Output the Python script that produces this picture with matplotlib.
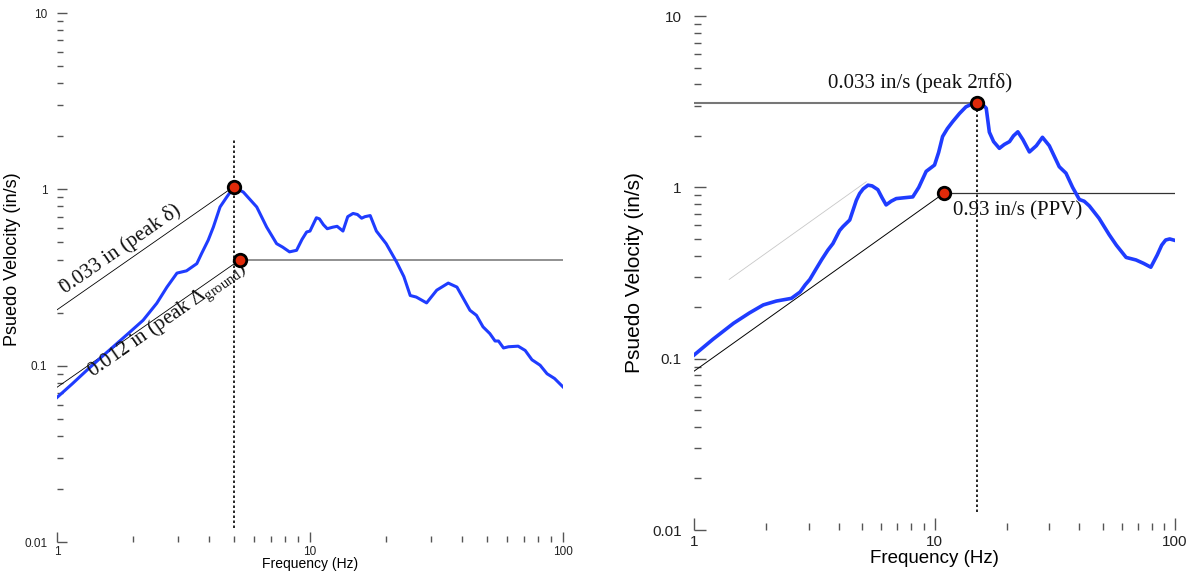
import numpy as np
import matplotlib
matplotlib.use('Agg')
import matplotlib.pyplot as plt
from matplotlib.ticker import FixedLocator, FixedFormatter, NullFormatter

plt.rcParams['font.family'] = ['Liberation Sans', 'DejaVu Sans']
plt.rcParams['mathtext.fontset'] = 'custom'
plt.rcParams['mathtext.rm'] = 'Liberation Serif'
plt.rcParams['mathtext.it'] = 'Liberation Serif:italic'

# pseudo velocity spectrum, left plot (Hz, in/s)
freq_a = [1.0, 1.15, 1.31, 1.5, 1.73, 1.95, 2.19, 2.48, 2.72, 2.98, 3.25, 3.57,
          3.73, 3.96, 4.15, 4.41, 4.69, 5.0, 5.45, 6.16, 6.74, 7.38, 7.8, 8.3,
          8.85, 9.3, 9.7, 10.0, 10.6, 10.9, 11.3, 11.7, 12.3, 12.8, 13.5, 14.1,
          14.8, 15.4, 16.0, 16.5, 17.3, 18.3, 20.0, 22.0, 23.5, 24.9, 26.3, 28.9,
          31.7, 35.2, 38.1, 42.9, 45.5, 48.3, 51.4, 53.9, 55.6, 58.2, 60.9, 66.5,
          70.9, 75.4, 81.2, 86.5, 92.6, 100.0]
psv_a = [0.066, 0.079, 0.094, 0.112, 0.134, 0.156, 0.181, 0.226, 0.279, 0.335,
         0.345, 0.379, 0.433, 0.515, 0.611, 0.794, 0.905, 1.03, 0.965, 0.794,
         0.611, 0.492, 0.47, 0.442, 0.451, 0.52, 0.573, 0.58, 0.69, 0.68, 0.63,
         0.598, 0.61, 0.617, 0.58, 0.70, 0.73, 0.72, 0.686, 0.70, 0.71, 0.58,
         0.492, 0.387, 0.32, 0.25, 0.245, 0.227, 0.268, 0.294, 0.279, 0.206,
         0.193, 0.166, 0.152, 0.138, 0.138, 0.126, 0.128, 0.129, 0.122, 0.108,
         0.1006, 0.090, 0.0846, 0.0758]

# pseudo velocity spectrum, right plot (Hz, in/s)
freq_b = [1.0, 1.2, 1.46, 1.7, 1.94, 2.2, 2.54, 2.76, 2.9, 3.03, 3.2, 3.4, 3.6,
          3.78, 4.03, 4.16, 4.44, 4.73, 4.88, 5.05, 5.29, 5.5, 5.81, 6.05, 6.29,
          6.6, 6.93, 7.5, 8.12, 8.6, 9.23, 10.0, 10.4, 10.8, 11.3, 11.9, 12.7,
          13.5, 14.2, 15.0, 15.7, 16.4, 16.9, 17.6, 18.6, 19.5, 20.5, 21.3, 22.2,
          23.3, 24.8, 26.5, 28.1, 30.0, 33.0, 35.2, 37.5, 40.0, 41.9, 44.0, 48.3,
          53.2, 57.0, 62.6, 68.8, 74.0, 79.3, 84.3, 88.0, 91.4, 95.0, 100.0]
psv_b = [0.105, 0.13, 0.161, 0.185, 0.206, 0.217, 0.225, 0.245, 0.27, 0.29,
         0.33, 0.38, 0.43, 0.47, 0.56, 0.59, 0.645, 0.84, 0.92, 0.98, 1.03, 1.02,
         0.97, 0.87, 0.79, 0.83, 0.86, 0.87, 0.88, 1.0, 1.24, 1.35, 1.6, 1.98,
         2.2, 2.42, 2.7, 2.95, 3.05, 3.11, 3.08, 2.9, 2.1, 1.85, 1.69, 1.78, 1.85,
         2.0, 2.11, 1.9, 1.61, 1.75, 1.96, 1.75, 1.32, 1.21, 1.0, 0.85, 0.83,
         0.78, 0.66, 0.53, 0.46, 0.39, 0.377, 0.36, 0.342, 0.403, 0.46, 0.493,
         0.50, 0.49]

# peak displacements (in) and where the constant-displacement lines end (Hz)
disp_peak = 0.033
disp_ground = 0.012
f_peak_a = 5.0
f_ground_a = 5.3
f_peak_b = 15.0
f_hump_b = 5.2
f_ppv_b = 11.0
ppv_b = 0.93

freq_ticks = [1, 10, 100]
freq_labels = ['1', '10', '100']
vel_ticks = [0.01, 0.1, 1, 10]
vel_labels = ['0.01', '0.1', '1', '10']

BLUE = '#1f3cff'
RED = '#e02a0a'
SERIF = ['Liberation Serif', 'DejaVu Serif']


def disp_line(f, delta):
    return 2 * np.pi * np.asarray(f) * delta


def setup(ax, tick_fs, label_fs, major, minor, ypad, xpad):
    ax.set_xscale('log')
    ax.set_yscale('log')
    ax.set_xlim(1, 100)
    ax.set_ylim(0.01, 10)
    for sp in ax.spines.values():
        sp.set_visible(False)
    ax.xaxis.set_major_locator(FixedLocator(freq_ticks))
    ax.xaxis.set_major_formatter(FixedFormatter(freq_labels))
    ax.yaxis.set_major_locator(FixedLocator(vel_ticks))
    ax.yaxis.set_major_formatter(FixedFormatter(vel_labels))
    ax.xaxis.set_minor_formatter(NullFormatter())
    ax.yaxis.set_minor_formatter(NullFormatter())
    ax.tick_params(which='both', direction='in', color='#555555', width=1,
                   labelcolor='#222222', labelsize=tick_fs)
    ax.tick_params(which='major', length=major)
    ax.tick_params(which='minor', length=minor)
    ax.tick_params(axis='y', pad=ypad)
    ax.tick_params(axis='x', pad=xpad)
    ax.set_xlabel('Frequency (Hz)', fontsize=label_fs[0])
    ax.set_ylabel('Psuedo Velocity (in/s)', fontsize=label_fs[1])


def slope_angle(fig, ax):
    # on-screen angle of a slope-1 line in log-log space
    pos = ax.get_position()
    w = pos.width * fig.get_figwidth() * fig.dpi
    h = pos.height * fig.get_figheight() * fig.dpi
    xd = np.log10(ax.get_xlim()[1] / ax.get_xlim()[0])
    yd = np.log10(ax.get_ylim()[1] / ax.get_ylim()[0])
    return np.degrees(np.arctan((h / yd) / (w / xd)))


def line_label(ax, text, f, delta, ang, dist):
    a = np.radians(ang)
    ax.annotate(text, xy=(f, disp_line(f, delta)),
                xytext=(-np.sin(a) * dist, np.cos(a) * dist),
                textcoords='offset points', rotation=ang,
                rotation_mode='anchor', ha='center', va='center',
                fontsize=15, family=SERIF, color='#111111')


fig = plt.figure(figsize=(11.88, 5.73), dpi=100)
ax1 = fig.add_axes([0.04798, 0.0541, 0.4259, 0.9232])
ax2 = fig.add_axes([0.5842, 0.0750, 0.4049, 0.8970])

# ---- left: displacement peak vs ground displacement ----
setup(ax1, 8.5, (10, 13), 7.5, 4.3, 7, 3)
ax1.yaxis.set_label_coords(-0.071, 0.535)
ax1.xaxis.set_label_coords(0.5, -0.028)

v_peak_a = disp_line(f_peak_a, disp_peak)
v_ground_a = disp_line(f_ground_a, disp_ground)

ax1.plot([f_peak_a, f_peak_a], [0.012, 1.9], color='black', lw=1.2,
         ls=(0, (1.5, 1.5)), zorder=2)
ax1.plot([1, f_peak_a], disp_line([1, f_peak_a], disp_peak),
         color='black', lw=0.6, zorder=2)
ax1.plot([1, f_ground_a], disp_line([1, f_ground_a], disp_ground),
         color='black', lw=0.6, zorder=2)
ax1.plot([f_ground_a, 100], [v_ground_a, v_ground_a], color='#888888',
         lw=1.3, zorder=2)
ax1.plot(freq_a, psv_a, color=BLUE, lw=2.2, zorder=3)
ax1.plot([f_peak_a, f_ground_a], [v_peak_a, v_ground_a], 'o', ms=9,
         mfc=RED, mec='black', mew=2, zorder=4)

ang1 = slope_angle(fig, ax1)
line_label(ax1, '0.033 in (peak δ)', 1.91, disp_peak, ang1, 10)
line_label(ax1, '0.012 in (peak Δ$_\\mathrm{ground}$)', 2.62, disp_ground,
           ang1, -6)

# ---- right: peak 2*pi*f*delta vs PPV ----
setup(ax2, 11, (13.5, 15), 8.5, 5, 9, 3.5)
ax2.yaxis.set_label_coords(-0.104, 0.5)
ax2.xaxis.set_label_coords(0.5, -0.039)

v_peak_b = disp_line(f_peak_b, disp_peak)

ax2.plot([f_peak_b, f_peak_b], [0.0127, v_peak_b], color='black', lw=1.2,
         ls=(0, (1.5, 1.5)), zorder=2)
ax2.plot([1, f_peak_b], [v_peak_b, v_peak_b], color='#777777', lw=1.5,
         zorder=2)
ax2.plot([1.4, f_hump_b], disp_line([1.4, f_hump_b], disp_peak),
         color='#c8c8c8', lw=0.6, zorder=2)
ax2.plot([1, f_ppv_b], [ppv_b / f_ppv_b, ppv_b], color='black', lw=0.7,
         zorder=2)
ax2.plot([f_ppv_b, 100], [ppv_b, ppv_b], color='#333333', lw=0.9, zorder=2)
ax2.plot(freq_b, psv_b, color=BLUE, lw=2.6, zorder=3)
ax2.plot([f_peak_b, f_ppv_b], [v_peak_b, ppv_b], 'o', ms=9, mfc=RED,
         mec='black', mew=2, zorder=4)

ax2.annotate('0.033 in/s (peak 2πfδ)', xy=(f_peak_b, v_peak_b),
             xytext=(-41, 14), textcoords='offset points', ha='center',
             va='center', fontsize=15, family=SERIF, color='#111111')
ax2.annotate('0.93 in/s (PPV)', xy=(f_ppv_b, ppv_b), xytext=(6, -13),
             textcoords='offset points', ha='left', va='center',
             fontsize=15, family=SERIF, color='#111111')

fig.savefig('out.png', dpi=100)
